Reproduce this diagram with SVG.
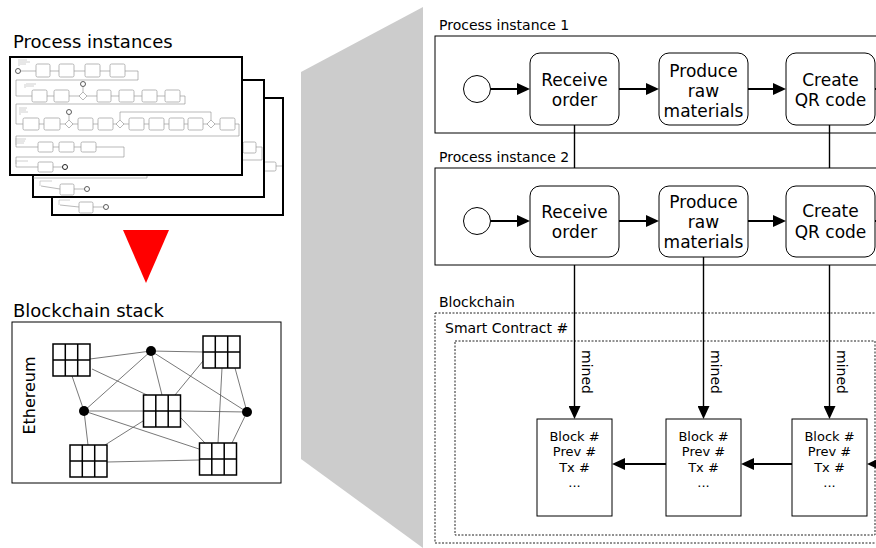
<svg xmlns="http://www.w3.org/2000/svg" width="876" height="548" viewBox="0 0 876 548">
  <defs>
    <style>
      text { font-family: "DejaVu Sans", "Liberation Sans", sans-serif; fill: #000; }
      .title { font-size: 18px; }
      .label { font-size: 14px; }
      .task-text { font-size: 17px; text-anchor: middle; }
      .block-text { font-size: 13px; text-anchor: middle; }
      .page { fill: #fff; stroke: #000; stroke-width: 2; }
      .mini { fill: #fff; stroke: #9a9a9a; stroke-width: 0.7; }
      .mini-flow { fill: none; stroke: #8a8a8a; stroke-width: 0.6; }
      .mini-note { fill: none; stroke: #c4c4c4; stroke-width: 0.8; }
      .pool { fill: #fff; stroke: #000; stroke-width: 1; }
      .task { fill: #fff; stroke: #000; stroke-width: 1; }
      .event { fill: #fff; stroke: #000; stroke-width: 1; }
      .dashed { fill: none; stroke: #222; stroke-width: 1; stroke-dasharray: 2 1.5; }
      .block { fill: #fff; stroke: #000; stroke-width: 1; }
      .flow { fill: none; stroke: #000; stroke-width: 2; }
      .link { fill: none; stroke: #000; stroke-width: 1.4; }
      .net { fill: none; stroke: #555; stroke-width: 0.8; }
      .grid { fill: #fff; stroke: #000; stroke-width: 1.5; }
    </style>
    <marker id="arrow" markerUnits="userSpaceOnUse" markerWidth="14" markerHeight="12" refX="10" refY="6" orient="auto">
      <path d="M0,0 L13,6 L0,12 Z" fill="#000"/>
    </marker>
    <!-- 3x2 grid used for the blockchain stack nodes -->
    <g id="cellgrid">
      <rect class="grid" x="0" y="0" width="37" height="32"/>
      <path class="grid" d="M12.3,0 V32 M24.7,0 V32 M0,16 H37"/>
    </g>
  </defs>

  <!-- Perspective band between overview and detail -->
  <polygon id="zoom-band" points="301,72 423,7 423,548 301,459" fill="#cccccc"/>

  <!-- Left: stacked process instance pages -->
  <g id="process-instances">
    <text class="title" x="13" y="48">Process instances</text>

    <!-- back page -->
    <rect class="page" x="52" y="98" width="231" height="117"/>
    <rect class="mini" x="264" y="162" width="12" height="9" rx="1.5"/>
    <path class="mini-flow" d="M276,166 H282"/>
    <path class="mini-note" d="M59,200 H70 M59,200 V205"/>
    <path class="mini-flow" d="M60,205 L79,207"/>
    <rect class="mini" x="79" y="202" width="14" height="11" rx="1.5"/>
    <path class="mini-flow" d="M93,207 H103.5"/>
    <circle cx="106" cy="207" r="2.5" fill="#fff" stroke="#333" stroke-width="0.8"/>

    <!-- middle page -->
    <rect class="page" x="33" y="80" width="231" height="117"/>
    <rect class="mini" x="243" y="142" width="13" height="11" rx="1.5"/>
    <path class="mini-flow" d="M256,147 H262 V160 H242"/>
    <path class="mini-flow" d="M33,178 H147 V172"/>
    <path class="mini-note" d="M40,181 H52 M40,181 V186"/>
    <path class="mini-flow" d="M41,186 L60,189"/>
    <rect class="mini" x="60" y="184" width="14" height="11" rx="1.5"/>
    <path class="mini-flow" d="M74,189 H84.5"/>
    <circle cx="87" cy="189" r="2.5" fill="#fff" stroke="#333" stroke-width="0.8"/>

    <!-- front page -->
    <rect class="page" x="10" y="57" width="232" height="118"/>
    <g id="front-page-model">
      <!-- annotations -->
      <path class="mini-note" d="M19,59 V66 M20,60 H27 M20,62 H30 M20,64 H26"/>
      <path class="mini-note" d="M25,84 V88 M26,84 H36 M26,86 H34"/>
      <path class="mini-note" d="M20,107 V115 M21,108 H27 M21,110 H26 M21,112 H28"/>
      <path class="mini-note" d="M16,138 V145 M17,139 H26 M17,141 H25 M17,143 H24"/>
      <path class="mini-note" d="M16,160 V164 M17,161 H28"/>
      <!-- row 1 -->
      <circle cx="18" cy="71" r="2.5" fill="#fff" stroke="#333" stroke-width="0.8"/>
      <path class="mini-flow" d="M20.5,71 H110 M124,71 H138 V80 H16 V96 H32"/>
      <rect class="mini" x="36" y="64" width="14" height="13" rx="1.5"/>
      <rect class="mini" x="59" y="64" width="15" height="13" rx="1.5"/>
      <rect class="mini" x="85" y="64" width="15" height="13" rx="1.5"/>
      <rect class="mini" x="110" y="64" width="15" height="13" rx="1.5"/>
      <!-- row 2 -->
      <path class="mini-flow" d="M32,96 H180 M180,96 H185 V104 H16 V124 H23 M83,86.5 V92"/>
      <rect class="mini" x="32" y="90" width="15" height="12" rx="1.5"/>
      <rect class="mini" x="54" y="90" width="15" height="12" rx="1.5"/>
      <path class="mini" d="M83,92 L87,96 L83,100 L79,96 Z"/>
      <circle cx="83" cy="84" r="2.5" fill="#fff" stroke="#333" stroke-width="0.8"/>
      <rect class="mini" x="97" y="90" width="14" height="12" rx="1.5"/>
      <rect class="mini" x="119" y="90" width="15" height="12" rx="1.5"/>
      <rect class="mini" x="142" y="90" width="15" height="12" rx="1.5"/>
      <rect class="mini" x="165" y="90" width="15" height="12" rx="1.5"/>
      <!-- row 3 -->
      <path class="mini-flow" d="M23,124 H235 M235,124 H239 V136 H16 V147 H38 M69,114.5 V120 M120,120 V112 H211 V120"/>
      <rect class="mini" x="23" y="118" width="16" height="12" rx="1.5"/>
      <rect class="mini" x="44" y="118" width="16" height="12" rx="1.5"/>
      <path class="mini" d="M69,120 L73,124 L69,128 L65,124 Z"/>
      <circle cx="69" cy="112" r="2.5" fill="#fff" stroke="#333" stroke-width="0.8"/>
      <rect class="mini" x="78" y="118" width="15" height="12" rx="1.5"/>
      <rect class="mini" x="98" y="118" width="15" height="12" rx="1.5"/>
      <path class="mini" d="M120,120 L124,124 L120,128 L116,124 Z"/>
      <rect class="mini" x="129" y="118" width="15" height="12" rx="1.5"/>
      <rect class="mini" x="149" y="118" width="15" height="12" rx="1.5"/>
      <rect class="mini" x="169" y="118" width="15" height="12" rx="1.5"/>
      <rect class="mini" x="188" y="118" width="15" height="12" rx="1.5"/>
      <path class="mini" d="M211,120 L215,124 L211,128 L207,124 Z"/>
      <rect class="mini" x="220" y="118" width="15" height="12" rx="1.5"/>
      <!-- row 4 -->
      <path class="mini-flow" d="M38,147 H96 M96,147 H124 V157 H16 V167 H38"/>
      <rect class="mini" x="38" y="142" width="15" height="10" rx="1.5"/>
      <rect class="mini" x="59" y="142" width="15" height="10" rx="1.5"/>
      <rect class="mini" x="81" y="142" width="15" height="10" rx="1.5"/>
      <!-- row 5 -->
      <path class="mini-flow" d="M53,167 H62.5"/>
      <rect class="mini" x="38" y="162" width="15" height="10" rx="1.5"/>
      <circle cx="65" cy="167" r="2.5" fill="#fff" stroke="#222" stroke-width="1"/>
    </g>
  </g>

  <!-- Transformation arrow -->
  <polygon id="transform-arrow" points="123,230 169,230 146,283" fill="#ff0000"/>

  <!-- Left: blockchain stack -->
  <g id="blockchain-stack">
    <text class="title" x="13" y="317">Blockchain stack</text>
    <rect x="12" y="322" width="269" height="161" fill="#fff" stroke="#000" stroke-width="1"/>
    <text x="35" y="395.5" font-size="16" text-anchor="middle" transform="rotate(-90 35 395.5)">Ethereum</text>
    <g id="network-links">
      <path class="net" d="M90,359 L151,351 L203,352 M92,369 L147,395 M72,376 L84,411 M151,351 L84,411 M151,351 L162,395 M151,351 L247,412 M203,361 L175,395 M222,368 L218,443 M235,368 L247,412 M84,411 L143,411 M181,411 L247,412 M84,411 L199,449 M84,411 L88,445 M143,421 L105,445 M181,418 L205,443 M247,412 L232,443 M107,462 L199,460"/>
    </g>
    <use href="#cellgrid" x="53" y="344"/>
    <use href="#cellgrid" x="203" y="336"/>
    <use href="#cellgrid" x="143.5" y="395"/>
    <use href="#cellgrid" x="70" y="445"/>
    <use href="#cellgrid" x="199.5" y="443"/>
    <circle cx="151" cy="351" r="5" fill="#000"/>
    <circle cx="84" cy="411" r="5" fill="#000"/>
    <circle cx="247" cy="412" r="5" fill="#000"/>
  </g>

  <!-- Right: process instance 1 -->
  <g id="instance-1">
    <text class="label" x="439" y="30">Process instance 1</text>
    <rect class="pool" x="435" y="36" width="460" height="97"/>
    <circle id="start-1" class="event" cx="477" cy="89" r="13.5"/>
    <g id="receive-1">
      <rect class="task" x="530" y="53" width="89" height="72" rx="10"/>
      <text class="task-text" x="574.5" y="86">Receive<tspan x="574.5" y="106">order</tspan></text>
    </g>
    <g id="produce-1">
      <rect class="task" x="659" y="53" width="89" height="72" rx="10"/>
      <text class="task-text" x="703.5" y="76.5">Produce<tspan x="703.5" y="96.5">raw</tspan><tspan x="703.5" y="116.5">materials</tspan></text>
    </g>
    <g id="qr-1">
      <rect class="task" x="786" y="53" width="89" height="72" rx="10"/>
      <text class="task-text" x="830.5" y="86">Create<tspan x="830.5" y="106">QR code</tspan></text>
    </g>
  </g>

  <!-- Right: process instance 2 -->
  <g id="instance-2">
    <text class="label" x="439" y="162">Process instance 2</text>
    <rect class="pool" x="435" y="168" width="460" height="97"/>
    <circle id="start-2" class="event" cx="477" cy="221" r="13.5"/>
    <g id="receive-2">
      <rect class="task" x="530" y="186" width="89" height="71" rx="10"/>
      <text class="task-text" x="574.5" y="218">Receive<tspan x="574.5" y="238">order</tspan></text>
    </g>
    <g id="produce-2">
      <rect class="task" x="659" y="186" width="89" height="71" rx="10"/>
      <text class="task-text" x="703.5" y="208">Produce<tspan x="703.5" y="228">raw</tspan><tspan x="703.5" y="248">materials</tspan></text>
    </g>
    <g id="qr-2">
      <rect class="task" x="786" y="186" width="89" height="71" rx="10"/>
      <text class="task-text" x="830.5" y="216.5">Create<tspan x="830.5" y="237.5">QR code</tspan></text>
    </g>
  </g>

  <!-- Right: blockchain with smart contract and blocks -->
  <g id="blockchain">
    <text class="label" x="439" y="307">Blockchain</text>
    <rect class="dashed" x="435" y="313" width="460" height="230"/>
    <g id="smart-contract">
      <text class="label" x="445" y="333">Smart Contract #</text>
      <rect class="dashed" x="455" y="341" width="420" height="194"/>
    </g>
    <g id="block-1">
      <rect class="block" x="537" y="419" width="75" height="97"/>
      <text class="block-text" x="574.5" y="441">Block #<tspan x="574.5" y="456.3">Prev #</tspan><tspan x="574.5" y="471.6">Tx #</tspan><tspan x="574.5" y="486.9">...</tspan></text>
    </g>
    <g id="block-2">
      <rect class="block" x="666" y="419" width="75" height="97"/>
      <text class="block-text" x="703.5" y="441">Block #<tspan x="703.5" y="456.3">Prev #</tspan><tspan x="703.5" y="471.6">Tx #</tspan><tspan x="703.5" y="486.9">...</tspan></text>
    </g>
    <g id="block-3">
      <rect class="block" x="792" y="419" width="75" height="97"/>
      <text class="block-text" x="829.5" y="441">Block #<tspan x="829.5" y="456.3">Prev #</tspan><tspan x="829.5" y="471.6">Tx #</tspan><tspan x="829.5" y="486.9">...</tspan></text>
    </g>
  </g>

  <!-- Connectors -->
  <g id="connectors">
    <!-- sequence flows, instance 1 -->
    <path class="flow" d="M490.5,89 H527" marker-end="url(#arrow)"/>
    <path class="flow" d="M619,89 H656" marker-end="url(#arrow)"/>
    <path class="flow" d="M748,89 H783" marker-end="url(#arrow)"/>
    <path class="flow" d="M875,89 H890"/>
    <!-- sequence flows, instance 2 -->
    <path class="flow" d="M490.5,221 H527" marker-end="url(#arrow)"/>
    <path class="flow" d="M619,221 H656" marker-end="url(#arrow)"/>
    <path class="flow" d="M748,221 H783" marker-end="url(#arrow)"/>
    <path class="flow" d="M875,221 H890"/>
    <!-- task links between instances -->
    <path class="link" d="M574.5,125 V168"/>
    <path class="link" d="M829.5,125 V168"/>
    <!-- mined transactions -->
    <path class="link" d="M574.5,265 V416" marker-end="url(#arrow)"/>
    <path class="link" d="M703.5,257 V416" marker-end="url(#arrow)"/>
    <path class="link" d="M829.5,265 V416" marker-end="url(#arrow)"/>
    <text class="label" transform="translate(582 372) rotate(90)" text-anchor="middle">mined</text>
    <text class="label" transform="translate(711 372) rotate(90)" text-anchor="middle">mined</text>
    <text class="label" transform="translate(837 372) rotate(90)" text-anchor="middle">mined</text>
    <!-- block chain references -->
    <path class="flow" d="M666,464 H615" marker-end="url(#arrow)"/>
    <path class="flow" d="M792,464 H744" marker-end="url(#arrow)"/>
    <path class="flow" d="M895,464 H870" marker-end="url(#arrow)"/>
  </g>
</svg>
